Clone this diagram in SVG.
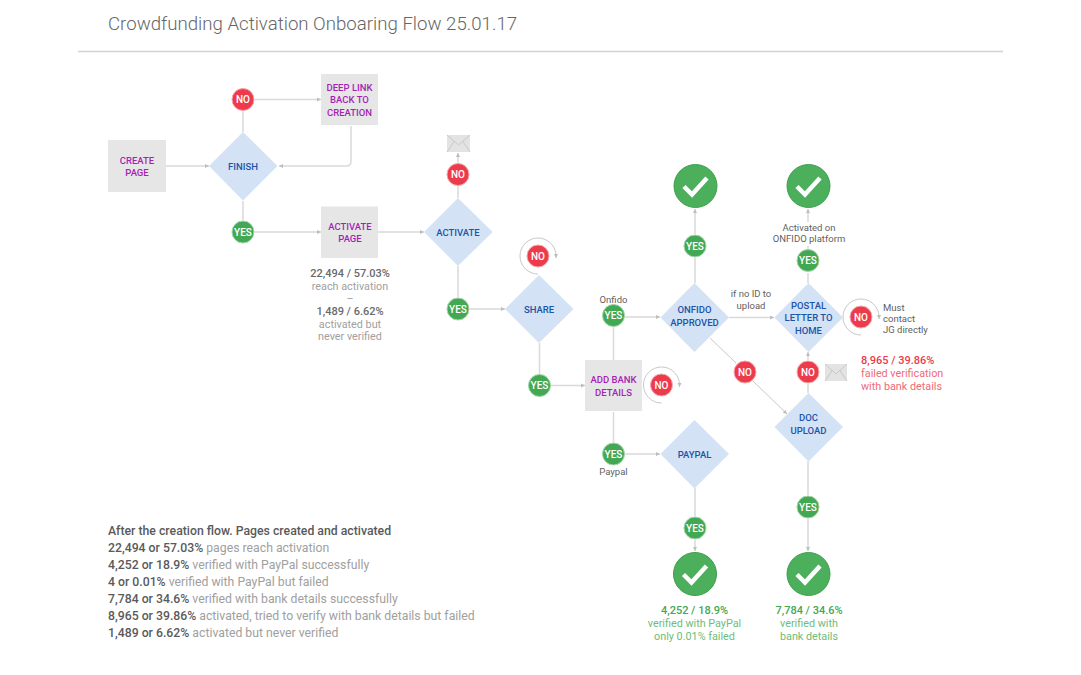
<svg xmlns="http://www.w3.org/2000/svg" width="1081" height="675" viewBox="0 0 1081 675">
<style>
text{font-family:Roboto,"Liberation Sans",sans-serif;text-anchor:middle}
.box{fill:#e6e6e6}
.dia{fill:#d3e2f5}
.tb{font-size:9.500px;font-weight:500;fill:#a81fb5}
.td{font-size:9.500px;font-weight:500;fill:#1c54a8}
.r{fill:#ec3b4b;stroke:#f3aab0;stroke-width:1}
.g{fill:#43a853;stroke:#a6d6ad;stroke-width:1}
.tc{font-size:10px;font-weight:500;fill:#fff}
.c{fill:none;stroke:#d9d9d9;stroke-width:1.500}
.d{fill:none;stroke:#c8c8c8;stroke-width:1}
.big{fill:#4caf5c;stroke:#3ea04e;stroke-width:1}
.tick{fill:none;stroke:#fff;stroke-width:4.500}
.sm{font-size:9.500px;fill:#5f5f5f}
.b{font-size:11px;font-weight:500;fill:#6a6a6a}
.l{font-size:10.800px;fill:#a0a0a0}
.rb{font-size:11px;font-weight:500;fill:#ec3b4b}
.rl{font-size:10.800px;fill:#f06a76}
.gb{font-size:11px;font-weight:500;fill:#43a853}
.gl{font-size:10.800px;fill:#6cbd79}
.env{fill:#e3e3e3}
.envl{fill:none;stroke:#c9c9c9;stroke-width:1}
.f text{text-anchor:start;font-size:12.250px;fill:#a0a0a0}
.f tspan{font-weight:500;fill:#5a5a5a}
</style>
<defs>
<marker id="a" markerWidth="5" markerHeight="6" refX="4.500" refY="3" orient="auto" markerUnits="userSpaceOnUse"><path d="M0.500 1L4.500 3L0.500 5Z" fill="#bdbdbd"/></marker>
</defs>
<g id="title">
<text x="108" y="30" style="text-anchor:start;font-size:18.650px;font-weight:300;fill:#666">Crowdfunding Activation Onboaring Flow 25.01.17</text>
<path d="M78 51.500H1003" fill="none" stroke="#d2d2d2" stroke-width="1.500"/>
</g>
<g id="connectors">
<path class="c" marker-end="url(#a)" d="M166 166H209"/>
<path class="c" d="M243 132V111"/>
<path class="c" marker-end="url(#a)" d="M255 99.500H321"/>
<path class="c" marker-end="url(#a)" d="M351 126V161Q351 166 346 166H279"/>
<path class="c" d="M243 201V220"/>
<path class="c" marker-end="url(#a)" d="M255 232H321"/>
<path class="c" marker-end="url(#a)" d="M378 232H424"/>
<path class="c" d="M458 198V186"/>
<path class="c" marker-end="url(#a)" d="M458 163V153"/>
<path class="c" d="M458 266V297"/>
<path class="c" marker-end="url(#a)" d="M470 309H505"/>
<path class="c" d="M539.500 343V374"/>
<path class="c" marker-end="url(#a)" d="M551 385.500H585"/>
<path class="c" d="M613.500 360V327"/>
<path class="c" marker-end="url(#a)" d="M625 317H660"/>
<path class="c" d="M613.500 412V442"/>
<path class="c" marker-end="url(#a)" d="M625 454H660"/>
<path class="c" d="M695 283V258"/>
<path class="c" marker-end="url(#a)" d="M695 234V209"/>
<path class="c" marker-end="url(#a)" d="M729 317.500H774"/>
<path class="c" d="M808 283V273"/>
<path class="c" d="M808 249V246"/>
<path class="c" marker-end="url(#a)" d="M808 222V209"/>
<path class="d" d="M710 338L736 363"/>
<path class="d" marker-end="url(#a)" d="M753 381L787 414"/>
<path class="c" d="M808 393V384"/>
<path class="c" marker-end="url(#a)" d="M808 360V352"/>
<path class="c" d="M808 461V495"/>
<path class="c" marker-end="url(#a)" d="M808 519V551"/>
<path class="c" d="M695 488V516"/>
<path class="c" marker-end="url(#a)" d="M695 540V551"/>
<path class="d" marker-end="url(#a)" d="M538 274A18 18 0 1 1 556 256V258"/>
<path class="d" marker-end="url(#a)" d="M661.500 403A18 18 0 1 1 679.500 385V387"/>
<path class="d" marker-end="url(#a)" d="M861 335A18 18 0 1 1 879 317V319"/>
</g>
<g id="create-page"><rect class="box" x="108" y="140" width="58" height="52"/><text class="tb" x="137" y="163.500">CREATE</text><text class="tb" x="137" y="176">PAGE</text></g>
<g id="deep-link"><rect class="box" x="321" y="74" width="57" height="51"/><text class="tb" x="349.500" y="91">DEEP LINK</text><text class="tb" x="349.500" y="103">BACK TO</text><text class="tb" x="349.500" y="116">CREATION</text></g>
<g id="activate-page"><rect class="box" x="321" y="206.500" width="57" height="51.500"/><text class="tb" x="350" y="229.500">ACTIVATE</text><text class="tb" x="350" y="242">PAGE</text>
<text class="b" x="350" y="276.500">22,494 / 57.03%</text><text class="l" x="350" y="289.500">reach activation</text><text class="l" x="350" y="302">–</text><text class="b" x="350" y="314.500">1,489 / 6.62%</text><text class="l" x="350" y="327.500">activated but</text><text class="l" x="350" y="340">never verified</text></g>
<g id="add-bank"><rect class="box" x="585" y="360" width="57" height="51"/><text class="tb" x="613.500" y="383">ADD BANK</text><text class="tb" x="613.500" y="395.500">DETAILS</text></g>
<g id="finish"><path class="dia" d="M243 132L277.500 166L243 200.500L209 166Z"/><text class="td" x="243" y="169.500">FINISH</text></g>
<g id="activate"><path class="dia" d="M458 198L492.500 232L458 266L424 232Z"/><text class="td" x="458" y="235.500">ACTIVATE</text></g>
<g id="share"><path class="dia" d="M539 275L573.500 309L539 343L505 309Z"/><text class="td" x="539" y="312.500">SHARE</text></g>
<g id="onfido-approved"><path class="dia" d="M694.500 283L729 317.500L694.500 352L660.500 317.500Z"/><text class="td" x="694.500" y="313">ONFIDO</text><text class="td" x="694.500" y="325.500">APPROVED</text></g>
<g id="postal-letter"><path class="dia" d="M808.500 283L843 317.500L808.500 352L774.500 317.500Z"/><text class="td" x="808.500" y="309">POSTAL</text><text class="td" x="808.500" y="321">LETTER TO</text><text class="td" x="808.500" y="333.500">HOME</text></g>
<g id="doc-upload"><path class="dia" d="M808.500 393L843 427L808.500 461.500L774.500 427Z"/><text class="td" x="808.500" y="421">DOC</text><text class="td" x="808.500" y="433.500">UPLOAD</text></g>
<g id="paypal"><path class="dia" d="M694.500 420L729 454L694.500 488.500L660.500 454Z"/><text class="td" x="694.500" y="457.500">PAYPAL</text></g>
<g id="no-1"><circle class="r" cx="243" cy="99.500" r="11"/><text class="tc" x="243" y="103">NO</text></g>
<g id="yes-1"><circle class="g" cx="243" cy="232" r="11"/><text class="tc" x="243" y="235.500">YES</text></g>
<g id="no-2"><circle class="r" cx="458" cy="174.500" r="11"/><text class="tc" x="458" y="178">NO</text></g>
<g id="yes-2"><circle class="g" cx="458" cy="309" r="11"/><text class="tc" x="458" y="312.500">YES</text></g>
<g id="no-3"><circle class="r" cx="538" cy="256" r="11"/><text class="tc" x="538" y="259.500">NO</text></g>
<g id="yes-3"><circle class="g" cx="539.500" cy="385.500" r="11"/><text class="tc" x="539.500" y="389">YES</text></g>
<g id="yes-onfido"><circle class="g" cx="613.500" cy="315.500" r="11"/><text class="tc" x="613.500" y="319">YES</text><text class="sm" x="613.500" y="302.500">Onfido</text></g>
<g id="no-4"><circle class="r" cx="661.500" cy="385" r="11"/><text class="tc" x="661.500" y="388.500">NO</text></g>
<g id="yes-paypal"><circle class="g" cx="613.500" cy="454" r="11"/><text class="tc" x="613.500" y="457.500">YES</text><text class="sm" x="613.500" y="474.500">Paypal</text></g>
<g id="yes-5"><circle class="g" cx="695" cy="246" r="11"/><text class="tc" x="695" y="249.500">YES</text></g>
<g id="yes-6"><circle class="g" cx="808" cy="260.500" r="11"/><text class="tc" x="808" y="264">YES</text></g>
<g id="no-5"><circle class="r" cx="861" cy="317" r="11"/><text class="tc" x="861" y="320.500">NO</text></g>
<g id="no-6"><circle class="r" cx="808" cy="372" r="11"/><text class="tc" x="808" y="375.500">NO</text></g>
<g id="no-7"><circle class="r" cx="745" cy="372" r="11"/><text class="tc" x="745" y="375.500">NO</text></g>
<g id="yes-7"><circle class="g" cx="808" cy="507" r="11"/><text class="tc" x="808" y="510.500">YES</text></g>
<g id="yes-8"><circle class="g" cx="695" cy="528" r="11"/><text class="tc" x="695" y="531.500">YES</text></g>
<g id="done-1"><circle class="big" cx="695.500" cy="186" r="21.500"/><path class="tick" d="M684 186.500L692 194.500L707 178"/></g>
<g id="done-2"><circle class="big" cx="808.500" cy="186" r="21.500"/><path class="tick" d="M797 186.500L805 194.500L820 178"/></g>
<g id="done-3"><circle class="big" cx="695" cy="574" r="21.500"/><path class="tick" d="M683.500 574.500L691.500 582.500L706.500 566"/></g>
<g id="done-4"><circle class="big" cx="808.500" cy="574" r="21.500"/><path class="tick" d="M797 574.500L805 582.500L820 566"/></g>
<g id="mail-1"><rect class="env" x="447" y="135" width="23" height="17"/><path class="envl" d="M447 135L458.500 145L470 135M447 152L454.500 141M470 152L462.500 141"/></g>
<g id="mail-2"><rect class="env" x="825" y="364" width="22" height="17"/><path class="envl" d="M825 364L836 374L847 364M825 381L832.500 370M847 381L839.500 370"/></g>
<g id="labels">
<text class="sm" x="751" y="297">if no ID to</text><text class="sm" x="751" y="309">upload</text>
<text class="sm" x="809" y="231">Activated on</text><text class="sm" x="809" y="242">ONFIDO platform</text>
<text class="sm" x="883" y="311" style="text-anchor:start">Must</text><text class="sm" x="883" y="322" style="text-anchor:start">contact</text><text class="sm" x="883" y="333" style="text-anchor:start">JG directly</text>
<text class="rb" x="861" y="364" style="text-anchor:start">8,965 / 39.86%</text><text class="rl" x="861" y="377" style="text-anchor:start">failed verification</text><text class="rl" x="861" y="389.500" style="text-anchor:start">with bank details</text>
<text class="gb" x="694.500" y="614">4,252 / 18.9%</text><text class="gl" x="694.500" y="627">verified with PayPal</text><text class="gl" x="694.500" y="639.500">only 0.01% failed</text>
<text class="gb" x="809" y="614">7,784 / 34.6%</text><text class="gl" x="809" y="627">verified with</text><text class="gl" x="809" y="639.500">bank details</text>
</g>
<g id="summary" class="f">
<text x="108" y="535"><tspan>After the creation flow. Pages created and activated</tspan></text>
<text x="108" y="552"><tspan>22,494 or 57.03%</tspan> pages reach activation</text>
<text x="108" y="569"><tspan>4,252 or 18.9%</tspan> verified with PayPal successfully</text>
<text x="108" y="586"><tspan>4 or 0.01%</tspan> verified with PayPal but failed</text>
<text x="108" y="603"><tspan>7,784 or 34.6%</tspan> verified with bank details successfully</text>
<text x="108" y="620"><tspan>8,965 or 39.86%</tspan> activated, tried to verify with bank details but failed</text>
<text x="108" y="637"><tspan>1,489 or 6.62%</tspan> activated but never verified</text>
</g>
</svg>
